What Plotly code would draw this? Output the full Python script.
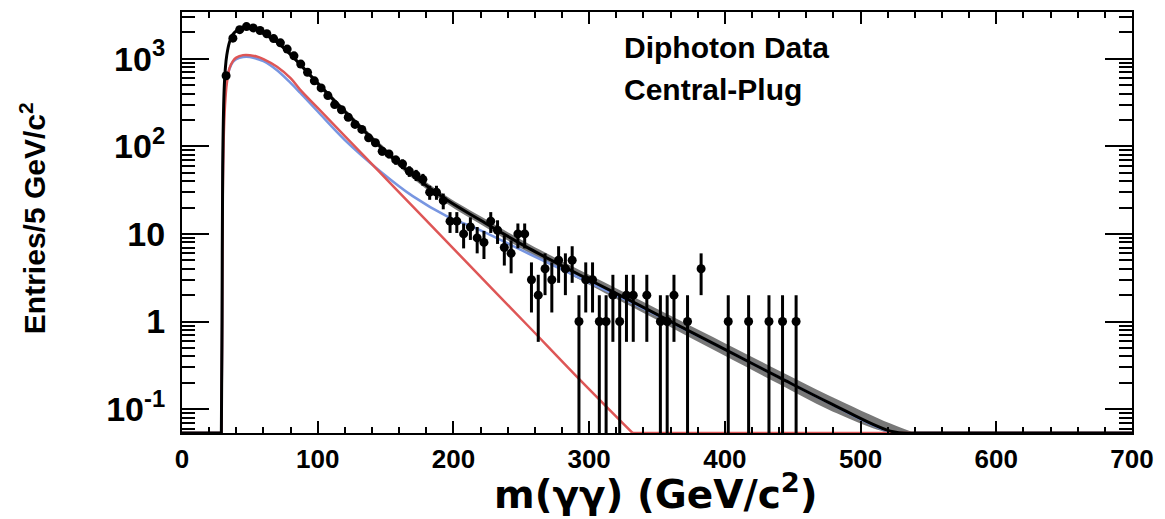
import numpy as np
import plotly.graph_objects as go

# Diphoton invariant mass, central-plug events, 5 GeV bins (bin centres, counts)
mass_bins = [32.5, 37.5, 42.5, 47.5, 52.5, 57.5, 62.5, 67.5, 72.5, 77.5,
             82.5, 87.5, 92.5, 97.5, 102.5, 107.5, 112.5, 117.5, 122.5, 127.5,
             132.5, 137.5, 142.5, 147.5, 152.5, 157.5, 162.5, 167.5, 172.5, 177.5,
             182.5, 187.5, 192.5, 197.5, 202.5, 207.5, 212.5, 217.5, 222.5, 227.5,
             232.5, 237.5, 242.5, 247.5, 252.5, 257.5, 262.5, 267.5, 272.5, 277.5,
             282.5, 287.5, 292.5, 297.5, 302.5, 307.5, 312.5, 317.5, 322.5, 327.5,
             332.5, 342.5, 352.5, 357.5, 362.5, 372.5, 382.5, 402.5, 417.5, 432.5,
             442.5, 452.5]
counts = [640, 1720, 2150, 2330, 2250, 2100, 1930, 1700, 1520, 1290,
          1080, 870, 700, 560, 465, 380, 300, 262, 215, 178,
          156, 125, 110, 88, 82, 70, 63, 52, 47, 42,
          30, 30, 24, 14, 14, 10, 12, 9, 8, 14,
          11, 7, 6, 10, 10, 3, 2, 4, 3, 5,
          4, 5, 1, 3, 3, 1, 1, 2, 1, 2,
          2, 2, 1, 1, 2, 1, 4, 1, 1, 1,
          1, 1]

# Total fit (black) with its uncertainty band half-width in decades
fit_mass = [0, 29, 29.5, 30, 31, 32, 33, 35, 37.5, 40, 45, 50, 55, 60, 70, 80, 90,
            100, 120, 146, 170, 195, 220, 256, 300, 330, 367, 400, 440, 477, 522,
            540, 600, 700]
fit_total = [0, 0, 1, 60, 420, 800, 1100, 1550, 1900, 2080, 2230, 2240, 2150, 1950,
             1550, 1120, 770, 525, 250, 100, 47, 24.5, 14.3, 6.8, 3.0, 1.74, 0.88,
             0.48, 0.23, 0.118, 0.056, 0.04, 0.013, 0.002]
band_halfwidth = [0.02, 0.02, 0.02, 0.02, 0.02, 0.02, 0.02, 0.02, 0.02, 0.02, 0.02,
                  0.02, 0.02, 0.02, 0.022, 0.024, 0.026, 0.028, 0.03, 0.034, 0.038,
                  0.042, 0.046, 0.05, 0.056, 0.061, 0.066, 0.071, 0.076, 0.081,
                  0.086, 0.088, 0.09, 0.095]

# Fit components
red_mass = [0, 29, 29.5, 30, 31, 32, 33, 35, 37.5, 40, 45, 50, 55, 60, 70, 80, 87,
            100, 120, 146, 170, 200, 230, 256, 290, 332, 400, 700]
red_fit = [0, 0, 0.5, 25, 170, 350, 520, 780, 940, 1030, 1100, 1100, 1060, 990, 810,
           600, 445, 275, 131, 50, 20.6, 6.8, 2.24, 0.86, 0.243, 0.051, 0.004, 1e-6]
blue_mass = [0, 29, 29.5, 30, 31, 32, 33, 35, 37.5, 40, 45, 50, 55, 60, 70, 80, 87,
             100, 120, 146, 170, 195, 220, 256, 300, 330, 367, 400, 440, 477, 522,
             540, 600, 700]
blue_fit = [0, 0, 0.5, 35, 250, 450, 580, 770, 920, 990, 1050, 1050, 1000, 940, 740,
            530, 410, 250, 118, 52, 27, 16, 11, 5.9, 2.8, 1.68, 0.87, 0.48, 0.23,
            0.117, 0.055, 0.04, 0.013, 0.002]

x_ticks = [0, 100, 200, 300, 400, 500, 600, 700]
y_ticks = [0.1, 1, 10, 100, 1000]
y_ticktext = ["10<sup>-1</sup>", "1", "10", "10<sup>2</sup>", "10<sup>3</sup>"]

Y_LOG_RANGE = [-1.273, 3.534]
y_floor = 10 ** Y_LOG_RANGE[0]

RED = "rgb(222,86,86)"
BLUE = "rgb(120,150,225)"
BAND = "rgb(120,120,120)"


def curve_parts(xs, ys):
    """Split a curve into the part above the frame floor (smooth) and the
    stretches that run along the lower edge of the frame (straight)."""
    xs = np.asarray(xs, dtype=float)
    ys = np.asarray(ys, dtype=float)
    above = np.nonzero(ys > y_floor)[0]
    i0 = max(above[0] - 1, 0)
    i1 = min(above[-1] + 1, len(xs) - 1)
    smooth_x = xs[i0:i1 + 1]
    smooth_y = np.maximum(ys[i0:i1 + 1], y_floor)
    floor_x = [xs[0], xs[i0], None, xs[i1], xs[-1]]
    floor_y = [y_floor, y_floor, None, y_floor, y_floor]
    return (smooth_x, smooth_y), (floor_x, floor_y), (i0, i1)


def add_curve(fig, xs, ys, color, width):
    (sx, sy), (fx, fy), _ = curve_parts(xs, ys)
    fig.add_trace(go.Scatter(x=fx, y=fy, mode="lines", connectgaps=False,
                             line=dict(color=color, width=width),
                             showlegend=False, hoverinfo="skip"))
    fig.add_trace(go.Scatter(x=sx, y=sy, mode="lines",
                             line=dict(color=color, width=width, shape="spline",
                                       smoothing=1.0),
                             showlegend=False))


n = np.asarray(counts, dtype=float)
err = np.sqrt(n)
err_minus = np.minimum(err, n * 0.999)

total = np.asarray(fit_total, dtype=float)
hw = 10 ** np.asarray(band_halfwidth)
_, _, (b0, b1) = curve_parts(fit_mass, total * hw)
band_x = np.asarray(fit_mass, dtype=float)[b0:b1 + 1]
band_hi = np.maximum(total * hw, y_floor)[b0:b1 + 1]
band_lo = np.maximum(total / hw, y_floor)[b0:b1 + 1]

fig = go.Figure()

fig.add_trace(go.Scatter(x=band_x, y=band_lo, mode="lines",
                         line=dict(width=0, shape="spline", color=BAND),
                         showlegend=False, hoverinfo="skip"))
fig.add_trace(go.Scatter(x=band_x, y=band_hi, mode="lines", fill="tonexty",
                         fillcolor=BAND, line=dict(width=0, shape="spline", color=BAND),
                         showlegend=False, hoverinfo="skip"))
add_curve(fig, blue_mass, blue_fit, BLUE, 2.5)
add_curve(fig, red_mass, red_fit, RED, 2.5)
add_curve(fig, fit_mass, fit_total, "black", 3)

fig.add_trace(go.Scatter(x=mass_bins, y=counts, mode="markers",
                         marker=dict(color="black", size=9),
                         error_y=dict(type="data", array=err, arrayminus=err_minus,
                                      color="black", thickness=3, width=0),
                         showlegend=False))

minor_y = [m * 10 ** e for e in range(-2, 4) for m in range(2, 10)]
minor_y = [v for v in minor_y if y_floor <= v <= 10 ** Y_LOG_RANGE[1]]

BOLD = dict(family="Liberation Sans, Arial, sans-serif", color="black", weight="bold")
WIDE_BOLD = dict(family="DejaVu Sans, sans-serif", color="black", weight="bold")

fig.update_xaxes(range=[0, 700], tickmode="array", tickvals=x_ticks,
                 ticks="inside", ticklen=12, tickwidth=2, tickcolor="black",
                 minor=dict(tickmode="linear", tick0=0, dtick=20, ticks="inside",
                            ticklen=6, tickwidth=2, tickcolor="black", showgrid=False),
                 showline=True, linewidth=2, linecolor="black", mirror="allticks",
                 showgrid=False, zeroline=False, ticklabelstandoff=2,
                 tickfont=dict(size=26, **BOLD))
fig.update_yaxes(type="log", range=Y_LOG_RANGE, tickmode="array", tickvals=y_ticks,
                 ticktext=y_ticktext, ticks="inside", ticklen=27, tickwidth=2,
                 tickcolor="black",
                 minor=dict(tickmode="array", tickvals=minor_y, ticks="inside",
                            ticklen=13, tickwidth=2, tickcolor="black", showgrid=False),
                 showline=True, linewidth=2, linecolor="black", mirror="allticks",
                 showgrid=False, zeroline=False, ticklabelstandoff=8,
                 tickfont=dict(size=34, **BOLD))

fig.add_annotation(text="Diphoton Data", xref="paper", yref="paper", x=0.463, y=0.915,
                   xanchor="left", yanchor="middle", showarrow=False,
                   font=dict(size=30, **BOLD))
fig.add_annotation(text="Central-Plug", xref="paper", yref="paper", x=0.463, y=0.816,
                   xanchor="left", yanchor="middle", showarrow=False,
                   font=dict(size=30, **BOLD))
fig.add_annotation(text="Entries/5 GeV/c<sup>2</sup>", xref="paper", yref="paper",
                   x=-0.157, y=0.51, xanchor="center", yanchor="middle",
                   textangle=-90, showarrow=False, font=dict(size=30, **BOLD))
fig.add_annotation(text="m(γγ) (GeV/c<sup>2</sup>)", xref="paper", yref="paper",
                   x=0.499, y=-0.2033, xanchor="center", yanchor="bottom",
                   showarrow=False, font=dict(size=39, **WIDE_BOLD))

fig.update_layout(width=1165, height=519, margin=dict(l=182, r=33, t=10, b=86),
                  paper_bgcolor="white", plot_bgcolor="white")

fig.write_html("out.html")
